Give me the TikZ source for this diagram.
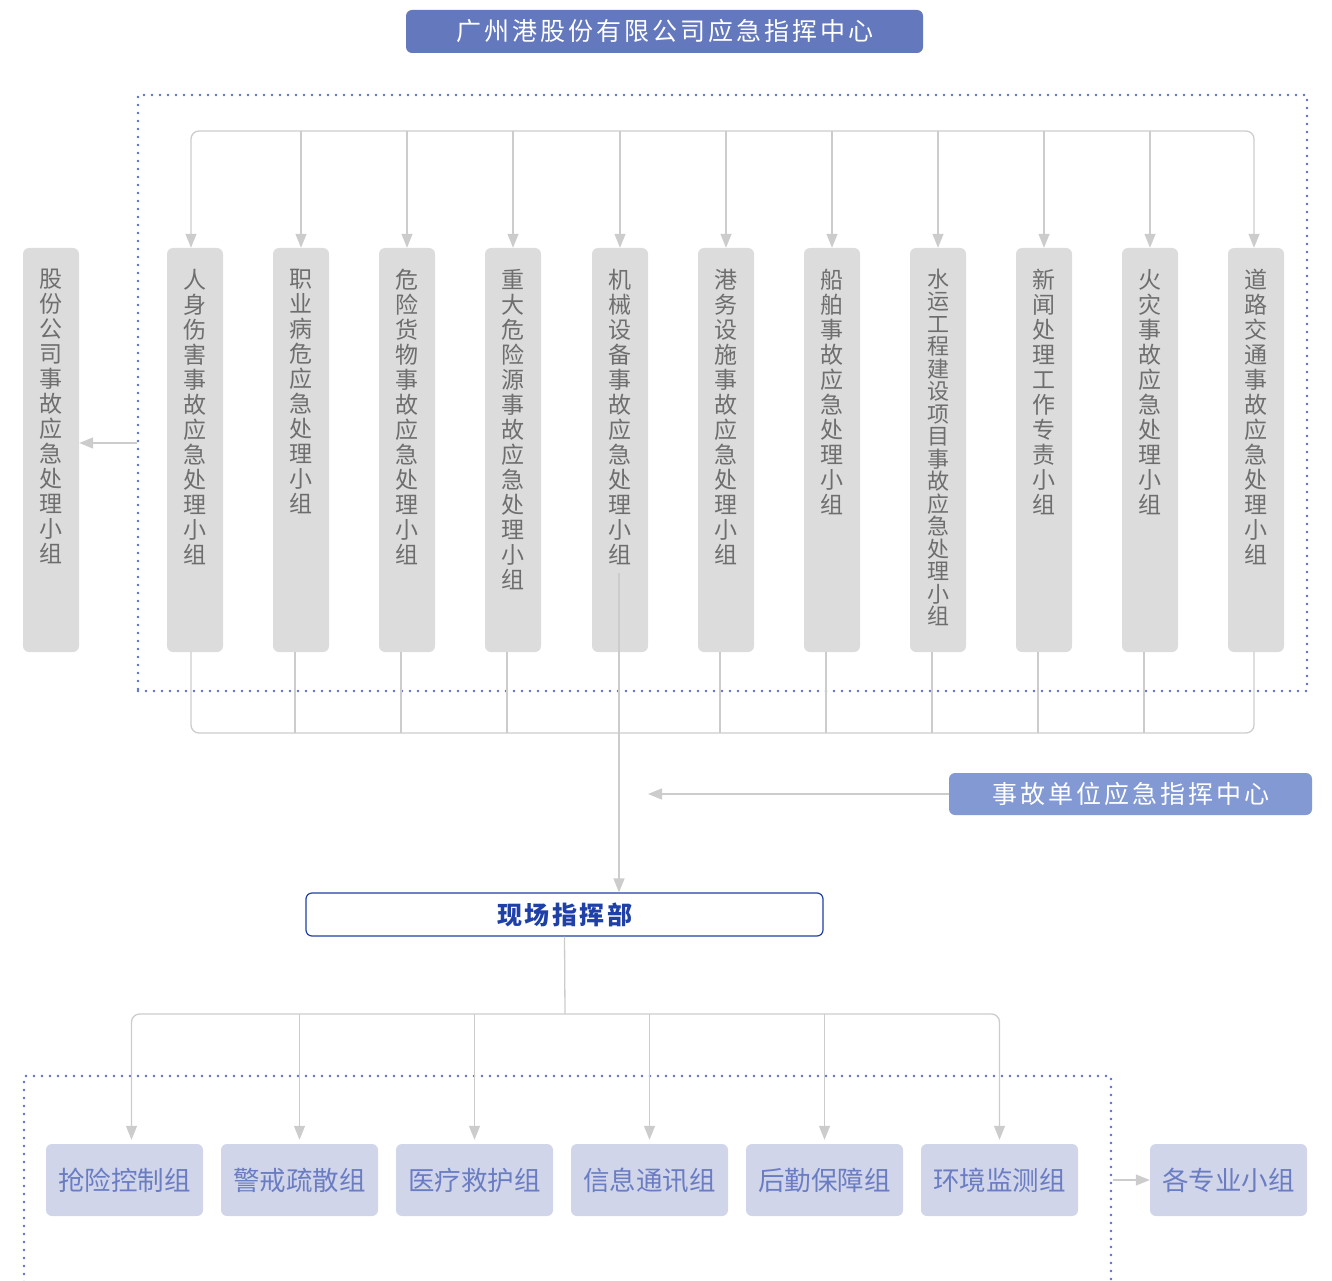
\documentclass[tikz,border=0pt]{standalone}
\usepackage{fontspec}
\setmainfont{Noto Sans CJK SC}
\usetikzlibrary{arrows.meta}
\definecolor{hqblue}{HTML}{6478BE}
\definecolor{accblue}{HTML}{8299D4}
\definecolor{cmdblue}{HTML}{1F40A6}
\definecolor{boxgray}{HTML}{DCDCDC}
\definecolor{txtgray}{HTML}{6E6E6E}
\definecolor{subfill}{HTML}{D0D5EA}
\definecolor{subtxt}{HTML}{6B7DC2}
\definecolor{lineg}{HTML}{CCCCCC}
\definecolor{dotblue}{HTML}{5A6EBE}
% one character per line
\makeatletter
\newcommand\vchars[1]{\expandafter\vchars@a#1\@nil}
\def\vchars@a#1{\ifx#1\@nil\else#1\par\expandafter\vchars@a\fi}
\makeatother
\begin{document}
\begin{tikzpicture}[x=1pt,y=-1pt,>={Triangle[width=11pt,length=14pt]},
	link/.style={draw=lineg,line width=1.3pt},
	arr/.style={link,->},
	dots/.style={draw=dotblue,line width=2.6pt,line cap=round,dash pattern=on 0pt off 8pt},
	vbox/.style={fill=boxgray,rounded corners=6pt,minimum width=56pt,minimum height=404pt,inner sep=0pt},
	vtxt/.style={anchor=north,text width=24pt,align=center,inner sep=0pt,text=txtgray,font=\fontsize{23}{25}\selectfont},
	sbox/.style={fill=subfill,rounded corners=6pt,minimum width=157pt,minimum height=72pt,inner sep=0pt,text=subtxt,font=\fontsize{26.5}{30}\selectfont}]
	\useasboundingbox (0,0) rectangle (1332,1281);
	% top
	\node[fill=hqblue,rounded corners=6pt,minimum width=517pt,minimum height=43pt,inner sep=0pt,text=white,
		font={\fontsize{25}{30}\selectfont\addfontfeature{LetterSpace=12}}] (hq) at (664.5,31.5) {广州港股份有限公司应急指挥中心};
	\node[dots,minimum width=1169pt,minimum height=596pt,inner sep=0pt] (topfrm) at (722.5,393) {};
	\node[vbox] (gs) at (51,450) {};
	\node[vtxt] (ts) at ([yshift=-21pt]gs.north) {\vchars{股份公司事故应急处理小组}};
	\foreach \n/\x/\t in {1/195/人身伤害事故应急处理小组,2/301/职业病危应急处理小组,3/407/危险货物事故应急处理小组,
		4/513/重大危险源事故应急处理小组,5/620/机械设备事故应急处理小组,6/726/港务设施事故应急处理小组,
		7/832/船舶事故应急处理小组,9/1044/新闻处理工作专责小组,
		10/1150/火灾事故应急处理小组,11/1256/道路交通事故应急处理小组}{
		\node[vbox] (g\n) at (\x,450) {};
		\node[vtxt] (t\n) at ([yshift=-21pt]g\n.north) {\vchars{\t}};
	}
	\node[vbox] (g8) at (938,450) {};
	\node[vtxt,font=\fontsize{22}{22.5}\selectfont] (t8) at ([yshift=-21pt]g8.north) {\vchars{水运工程建设项目事故应急处理小组}};
	\coordinate (topbus) at (722,131);
	\draw[arr,rounded corners=8pt] (topbus) -| ([xshift=-4pt]g1.north);
	\draw[arr,rounded corners=8pt] (topbus) -| ([xshift=-2pt]g11.north);
	\foreach \n in {2,...,10} \draw[arr] (g\n.north |- topbus) -- (g\n.north);
	\draw[arr] ([yshift=7pt]gs.east -| topfrm.west) -- ([yshift=7pt]gs.east);
	\coordinate (midbus) at (722,733);
	\draw[link,rounded corners=8pt] ([xshift=-4pt]g1.south) |- (midbus) -| ([xshift=-2pt]g11.south);
	\foreach \n in {2,3,4,6,7,8,9,10} \draw[link] ([xshift=-6pt]g\n.south) -- ([xshift=-6pt]g\n.south |- midbus);
	% middle
	\node[fill=accblue,rounded corners=6pt,minimum width=363pt,minimum height=42pt,inner sep=0pt,text=white,
		font={\fontsize{25}{30}\selectfont\addfontfeature{LetterSpace=12}}] (acc) at (1130.5,794) {事故单位应急指挥中心};
	\coordinate (acctip) at (648,794);
	\draw[arr] (acc.west) -- (acctip);
	\node[draw=cmdblue,line width=1.2pt,fill=white,rounded corners=6pt,minimum width=517pt,minimum height=43pt,inner sep=0pt,
		text=cmdblue,font={\fontsize{25}{30}\selectfont\bfseries\addfontfeature{LetterSpace=10}}] (cmd) at (564.5,914.5) {现场指挥部};
	\draw[arr] ([xshift=-1pt,yshift=-8pt]t5.south) -- ([xshift=-1pt]t5.south |- cmd.north);
	% bottom
	\draw[dots] (24,1290) |- (1111,1076) -- (1111,1290);
	\foreach \n/\x/\t in {1/124.5/抢险控制组,2/299.5/警戒疏散组,3/474.5/医疗救护组,4/649.5/信息通讯组,5/824.5/后勤保障组,6/999.5/环境监测组}
		\node[sbox] (s\n) at (\x,1180) {\t};
	\node[sbox] (spec) at (1228.5,1180) {各专业小组};
	\coordinate (lowbus) at (565,1014);
	\draw[link] (cmd.south) -- (lowbus);
	\draw[arr,rounded corners=8pt,shorten >=4pt] (lowbus) -| ([xshift=7pt]s1.north);
	\draw[arr,rounded corners=8pt,shorten >=4pt] (lowbus) -| (s6.north);
	\foreach \n in {2,...,5} \draw[arr,shorten >=4pt] (s\n.north |- lowbus) -- (s\n.north);
	\coordinate (botfrm) at (1113,1180);
	\draw[arr] (botfrm) -- (spec.west);
\end{tikzpicture}
\end{document}
